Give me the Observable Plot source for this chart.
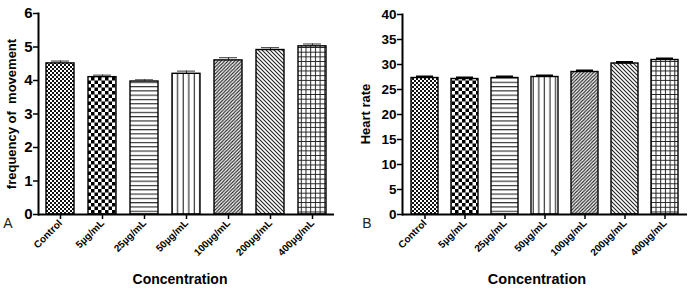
<!DOCTYPE html>
<html><head><meta charset="utf-8">
<script src="https://cdn.jsdelivr.net/npm/d3@7"></script>
<script src="https://cdn.jsdelivr.net/npm/@observablehq/plot@0.6"></script>
<style>
body{margin:0;background:#fff;}
#wrap{display:flex;width:698px;height:289px;overflow:hidden;}
#wrap svg{display:block;}
</style></head><body><div id="wrap"></div>
<script>
// ---- data ----
const categories = ["Control", "5µg/mL", "25µg/mL", "50µg/mL", "100µg/mL", "200µg/mL", "400µg/mL"];
const freqValues = [4.51, 4.10, 3.97, 4.20, 4.60, 4.91, 5.02];
const freqErrors = [0.07, 0.06, 0.05, 0.08, 0.08, 0.07, 0.07];
const heartValues = [27.3, 27.1, 27.3, 27.5, 28.5, 30.2, 30.9];
const heartErrors = [0.25, 0.25, 0.25, 0.25, 0.25, 0.25, 0.25];
const freqTicks = [0, 1, 2, 3, 4, 5, 6];
const heartTicks = [0, 5, 10, 15, 20, 25, 30, 35, 40];

// ---- styles ----
const patternIds = ["fineChecker", "checker", "hlines", "vlines", "diagUp", "diagDown", "grid"];
const FONT = "'Liberation Sans', Arial, Helvetica, sans-serif";

function addPatterns(svg, id) {
  const defs = d3.select(svg).insert("defs", ":first-child");
  const pat = (name, w, h) => {
    const p = defs.append("pattern").attr("id", `${id}-${name}`)
      .attr("patternUnits", "userSpaceOnUse").attr("width", w).attr("height", h);
    p.append("rect").attr("width", w).attr("height", h).attr("fill", "white");
    return p;
  };
  pat("fineChecker", 4, 4).append("path").attr("d", "M0,0h2v2h-2zM2,2h2v2h-2z").attr("fill", "#111");
  pat("checker", 7, 7).append("path").attr("d", "M0,0h3.5v3.5h-3.5zM3.5,3.5h3.5v3.5h-3.5z").attr("fill", "#000");
  pat("hlines", 10, 4.3).append("path").attr("d", "M0,0.6H10").attr("stroke", "#222").attr("stroke-width", 1.1);
  pat("vlines", 5.6, 10).append("path").attr("d", "M4,0V10").attr("stroke", "#222").attr("stroke-width", 1.1);
  pat("diagUp", 3.4, 3.4).append("path").attr("d", "M0,3.4L3.4,0M-1,1L1,-1M2.4,4.4L4.4,2.4").attr("stroke", "#222").attr("stroke-width", 1.1);
  pat("diagDown", 4, 4).append("path").attr("d", "M0,0L4,4M-1,3L1,5M3,-1L5,1").attr("stroke", "#222").attr("stroke-width", 1.1);
  pat("grid", 4.7, 4.7).append("path").attr("d", "M0,0.5H4.7M0.5,0V4.7").attr("stroke", "#222").attr("stroke-width", 1);
}

function panel(o) {
  const data = categories.map((c, i) => ({cat: c, v: o.values[i], e: o.errors[i], pat: `url(#${o.id}-${patternIds[i]})`}));
  const svg = Plot.plot({
    width: o.width, height: 289,
    marginLeft: o.marginLeft, marginRight: o.marginRight, marginTop: o.marginTop, marginBottom: 75,
    style: {fontFamily: FONT, background: "white", color: "black", overflow: "visible"},
    x: {domain: categories, paddingInner: 0.333, paddingOuter: o.paddingOuter, label: null},
    y: {domain: o.yDomain, label: null},
    color: {type: "identity"},
    marks: [
      Plot.barY(data, {x: "cat", y: "v", fill: "pat", stroke: "black", strokeWidth: 1.4}),
      Plot.ruleX(data, {x: "cat", y1: "v", y2: d => d.v + d.e, stroke: "#222", strokeWidth: o.errWidth}),
      Plot.tickY(data, {x: "cat", y: d => d.v + d.e, insetLeft: 5, insetRight: 5, stroke: o.errColor, strokeWidth: o.errWidth}),
      Plot.axisY({ticks: o.ticks, tickFormat: d3.format("d"), tickSize: 5, tickPadding: 1, label: null,
        strokeWidth: 1.5, fontSize: o.tickFont, fontWeight: "bold"}),
      Plot.axisX({tickRotate: -45, tickSize: 5, tickPadding: 2, label: null, strokeWidth: 1.5,
        fontSize: 10, fontWeight: "bold"}),
      Plot.frame({anchor: "left", strokeWidth: 2}),
      Plot.ruleY([0], {strokeWidth: 2})
    ]
  });
  addPatterns(svg, o.id);
  const s = d3.select(svg);
  s.append("text").attr("transform", `translate(${o.ylabelX},114) rotate(-90)`)
    .attr("text-anchor", "middle").attr("font-size", 13).attr("font-weight", "bold")
    .attr("font-family", FONT).attr("fill", "black").text(o.ylabel);
  s.append("text").attr("x", o.letterX).attr("y", 228).attr("font-size", 14)
    .attr("font-family", FONT).attr("fill", "#222").text(o.letter);
  s.append("text").attr("x", o.titleX).attr("y", 284).attr("text-anchor", "middle")
    .attr("font-size", o.titleFont).attr("font-weight", "bold").attr("font-family", FONT)
    .attr("fill", "black").text("Concentration");
  return svg;
}

const wrap = document.getElementById("wrap");
wrap.append(panel({
  id: "pa", values: freqValues, errors: freqErrors, yDomain: [0, 6], ticks: freqTicks,
  width: 350, marginLeft: 38, marginRight: 16, marginTop: 13, paddingOuter: 0.19,
  tickFont: 15, errWidth: 1, errColor: "#333", ylabel: "frequency of  movement", ylabelX: 16,
  letter: "A", letterX: 8, titleX: 180, titleFont: 14
}));
wrap.append(panel({
  id: "pb", values: heartValues, errors: heartErrors, yDomain: [0, 40], ticks: heartTicks,
  width: 348, marginLeft: 52, marginRight: 11, marginTop: 14, paddingOuter: 0.145,
  tickFont: 13.5, errWidth: 2.5, errColor: "#000", ylabel: "Heart rate", ylabelX: 20,
  letter: "B", letterX: 17, titleX: 187, titleFont: 14.5
}));
</script>
</body></html>
